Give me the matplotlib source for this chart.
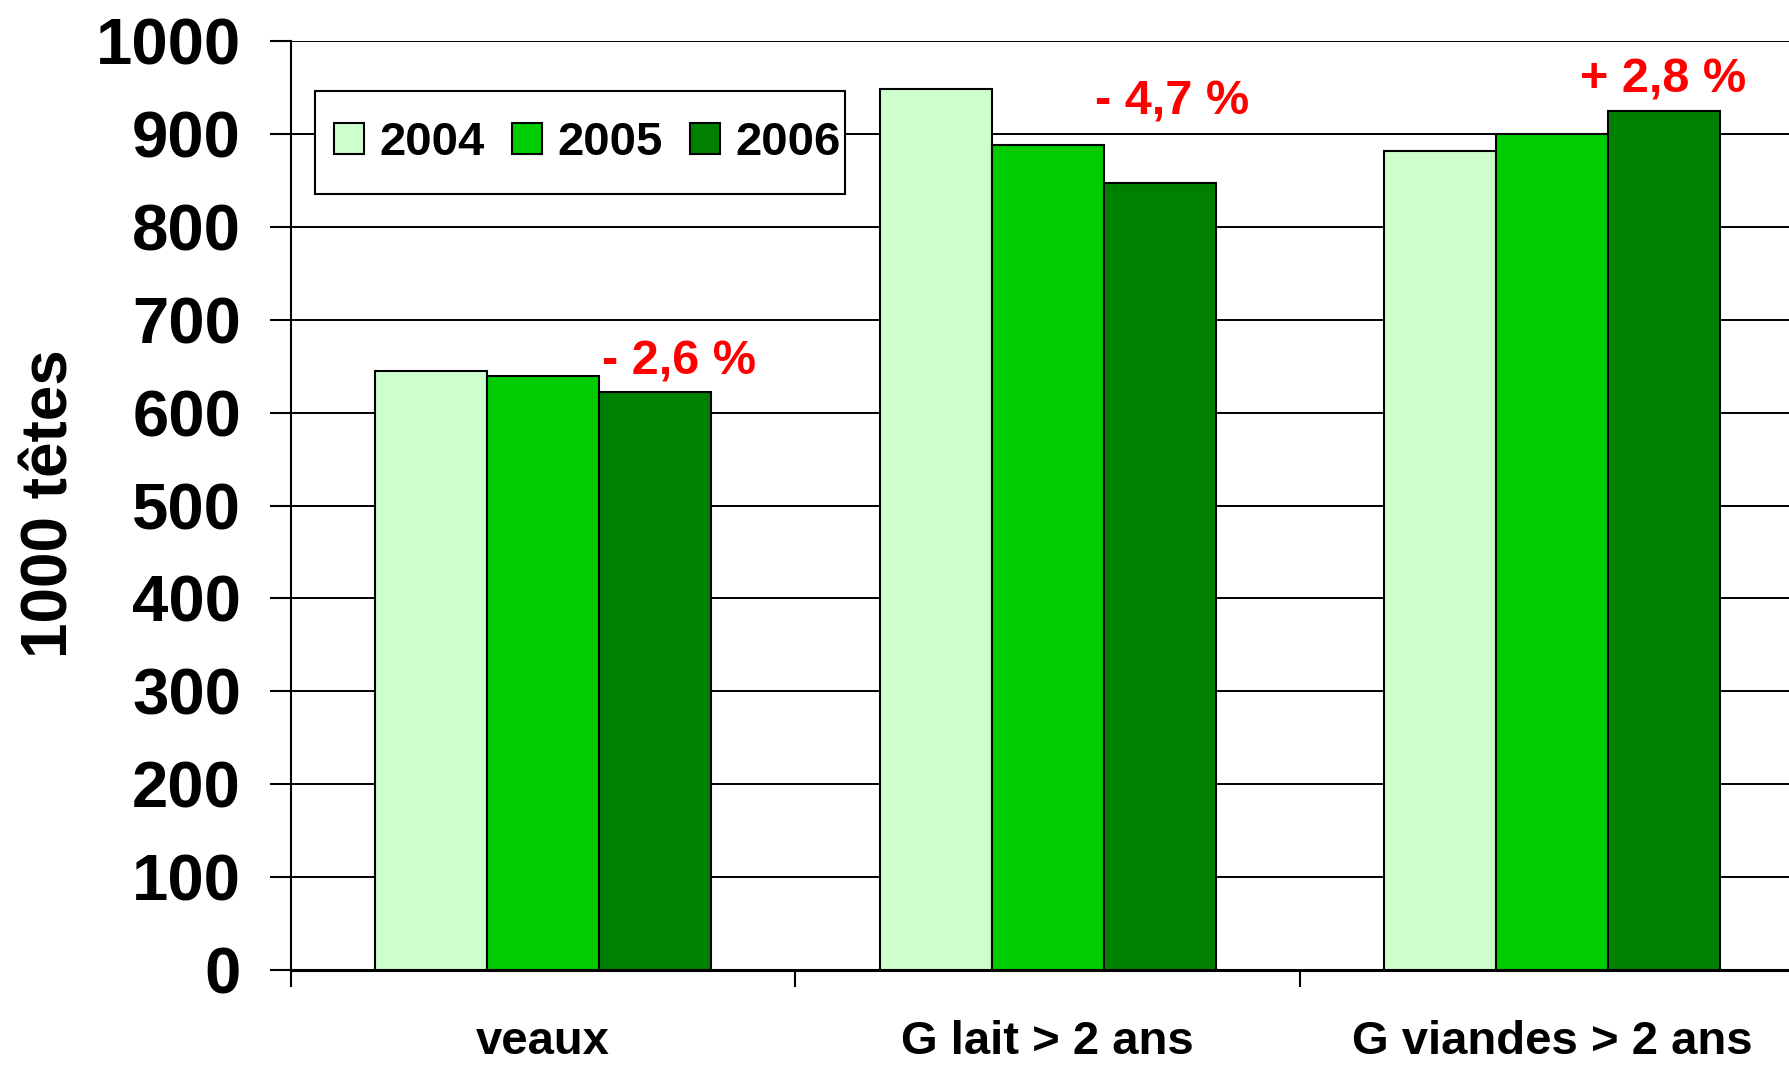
import numpy as np
from matplotlib import pyplot
from matplotlib.patches import Rectangle
from matplotlib.ticker import FixedLocator, NullFormatter

# cheptel bovin, 1000 tetes
categories = ['veaux', 'G lait > 2 ans', 'G viandes > 2 ans']
years = ['2004', '2005', '2006']
v2004 = [645, 948, 882]
v2005 = [639, 888, 900]
v2006 = [622, 847, 925]
changes = ['- 2,6 %', '- 4,7 %', '+ 2,8 %']

colors = ['#CCFFCC', '#00CC00', '#008000']
# where the change labels sit (x in category units, y baseline in data units)
annot_x = [0.27, 1.247, 2.221]
annot_y = [641, 921, 945]

pyplot.rcParams['font.family'] = ['Liberation Sans', 'DejaVu Sans']
pyplot.rcParams['font.weight'] = 'bold'

fig = pyplot.figure(figsize=(17.89, 10.65), dpi=100)
ax = fig.add_axes([291/1789, 1-970/1065, 1-291/1789, (970-41)/1065])

x = np.arange(len(categories))
width = 0.222
for i, (vals, year) in enumerate(zip([v2004, v2005, v2006], years)):
	ax.bar(x + (i-1)*width, vals, width, color=colors[i], edgecolor='black',
	       linewidth=1.5, label=year, zorder=3)

for i, txt in enumerate(changes):
	ax.text(annot_x[i], annot_y[i], txt, color='red', fontsize=35, fontweight='bold',
	        ha='center', va='baseline')

ax.set_ylim(0, 1000)
ax.set_xlim(-0.5, 2.47)
ax.set_yticks(np.arange(0, 1001, 100))
ax.yaxis.grid(True, color='black', linewidth=1.4, zorder=0)
ax.set_axisbelow(True)
ax.tick_params(axis='y', labelsize=47, length=15, width=1.5, pad=21, direction='out')
for lab in ax.get_yticklabels():
	lab.set_fontweight('bold')

# ticks between categories, labels at the centres
ax.xaxis.set_major_locator(FixedLocator([-0.5, 0.5, 1.5]))
ax.xaxis.set_major_formatter(NullFormatter())
ax.xaxis.set_minor_locator(FixedLocator(x))
ax.set_xticklabels(categories, minor=True)
ax.tick_params(axis='x', which='major', length=12, width=1.5, direction='out')
ax.tick_params(axis='x', which='minor', length=0, labelsize=34, pad=36)
for lab in ax.get_xticklabels(minor=True):
	lab.set_fontweight('bold')

for side in ['top', 'right']:
	ax.spines[side].set_visible(False)
ax.spines['left'].set_linewidth(1.5)
ax.spines['bottom'].set_linewidth(2.2)

fig.text(51/1789, 1-504/1065, '1000 têtes', rotation=90, ha='center', va='center',
         fontsize=46, fontweight='bold')

# legend box drawn separately so the padding can differ from the text padding
box = Rectangle((315/1789, 1-194/1065), (845-315)/1789, (194-91)/1065,
                transform=fig.transFigure, facecolor='white', edgecolor='black',
                linewidth=1.5, zorder=4)
ax.add_patch(box)
box.set_clip_on(False)

leg = ax.legend(loc='center left', bbox_to_anchor=(334/1789, 1-143/1065),
                bbox_transform=fig.transFigure, ncol=3, fontsize=34, frameon=False,
                borderaxespad=0, borderpad=0,
                handlelength=0.64, handleheight=0.64, handletextpad=0.32,
                columnspacing=0.58)
leg.set_zorder(5)
for t in leg.get_texts():
	t.set_fontweight('bold')

pyplot.savefig('out.png', format='png', dpi=100)
